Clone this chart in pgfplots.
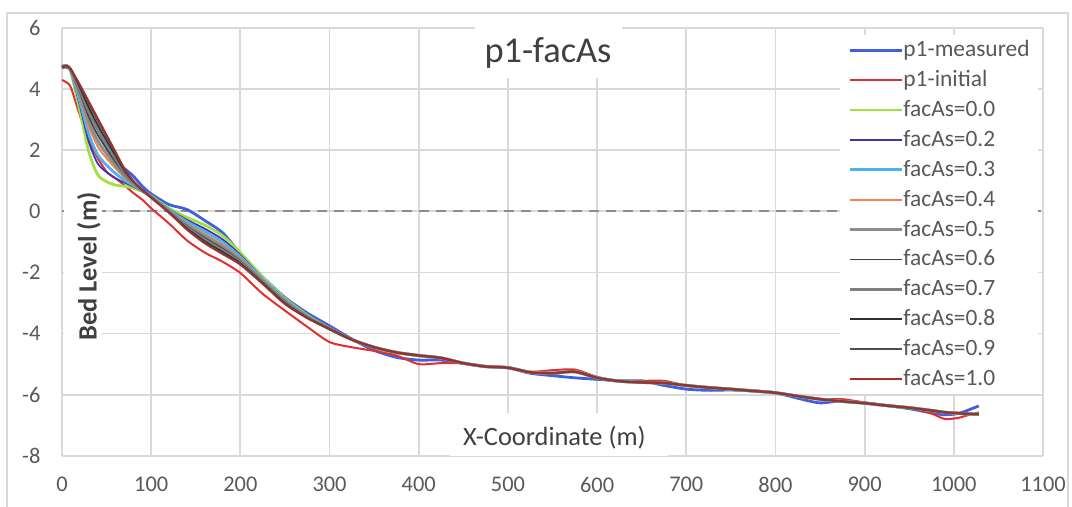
\documentclass[border=0pt]{standalone}
\usepackage{fontspec}
\setmainfont{Carlito}
\usepackage{pgfplots}
\usepackage{pgfplotstable}
\pgfplotsset{compat=1.18}
\definecolor{gridc}{HTML}{D9D9D9}
\definecolor{txt}{HTML}{595959}
\definecolor{ttl}{HTML}{404040}
\definecolor{cmeas}{HTML}{4060E0}
\definecolor{cinit}{HTML}{E03030}
\definecolor{cf00}{HTML}{A0E040}
\definecolor{cf02}{HTML}{4A30B0}
\definecolor{cf03}{HTML}{4DB3F0}
\definecolor{cf04}{HTML}{F4824A}
\definecolor{cf05}{HTML}{8C8C8C}
\definecolor{cf06}{HTML}{404040}
\definecolor{cf07}{HTML}{7F7F7F}
\definecolor{cf08}{HTML}{303030}
\definecolor{cf09}{HTML}{505050}
\definecolor{cf10}{HTML}{A0302A}

\pgfplotstableread{
x    meas   init   f00    f02    f03    f04    f05    f06    f07    f08    f09    f10
0    4.70   4.30   4.75   4.74   4.74   4.74   4.73   4.73   4.73   4.72   4.72   4.72
5    4.72   4.22   4.78   4.77   4.77   4.77   4.76   4.76   4.76   4.75   4.75   4.75
10   4.60   4.05   4.55   4.57   4.59   4.60   4.61   4.62   4.63   4.64   4.65   4.65
20   4.00   3.15   3.30   3.47   3.60   3.73   3.81   3.90   3.98   4.05   4.11   4.15
30   3.35   2.35   1.95   2.28   2.53   2.78   2.94   3.10   3.27   3.40   3.52   3.60
40   2.70   1.75   1.20   1.57   1.85   2.13   2.31   2.50   2.68   2.83   2.96   3.05
50   2.10   1.30   0.97   1.28   1.51   1.74   1.89   2.04   2.19   2.32   2.43   2.50
60   1.65   1.08   0.86   1.08   1.24   1.41   1.51   1.62   1.73   1.82   1.90   1.95
70   1.40   0.85   0.82   0.94   1.02   1.11   1.17   1.23   1.28   1.33   1.37   1.40
80   1.15   0.60   0.76   0.81   0.85   0.88   0.90   0.93   0.95   0.97   0.99   1.00
90   0.82   0.38   0.65   0.66   0.67   0.68   0.68   0.69   0.69   0.70   0.70   0.70
100  0.57   0.10   0.50   0.49   0.48   0.48   0.47   0.47   0.46   0.46   0.45   0.45
120  0.22  -0.40   0.10   0.07   0.05   0.03   0.01  -0.01  -0.02  -0.03  -0.04  -0.05
140  0.06  -0.95  -0.20  -0.28  -0.34  -0.40  -0.44  -0.48  -0.52  -0.55  -0.58  -0.60
160 -0.30  -1.35  -0.45  -0.57  -0.66  -0.75  -0.81  -0.87  -0.93  -0.98  -1.02  -1.05
180 -0.70  -1.65  -0.80  -0.92  -1.01  -1.10  -1.16  -1.22  -1.28  -1.33  -1.38  -1.40
200 -1.38  -2.02  -1.35  -1.43  -1.49  -1.55  -1.59  -1.63  -1.67  -1.70  -1.73  -1.75
225 -2.15  -2.70  -2.15  -2.20  -2.22  -2.25  -2.28  -2.30  -2.32  -2.34  -2.36  -2.38
250 -2.82  -3.25  -2.85  -2.88  -2.90  -2.92  -2.94  -2.96  -2.98  -3.00  -3.02  -3.04
275 -3.33  -3.78  -3.40  -3.42  -3.43  -3.44  -3.45  -3.46  -3.47  -3.48  -3.49  -3.50
300 -3.75  -4.28  -3.83  -3.85  -3.85  -3.85  -3.85  -3.85  -3.85  -3.85  -3.85  -3.85
325 -4.18  -4.45  -4.20  -4.20  -4.20  -4.20  -4.20  -4.20  -4.20  -4.20  -4.20  -4.20
350 -4.55  -4.57  -4.45  -4.45  -4.45  -4.45  -4.45  -4.45  -4.45  -4.45  -4.45  -4.45
375 -4.78  -4.72  -4.62  -4.62  -4.62  -4.62  -4.62  -4.62  -4.62  -4.62  -4.62  -4.62
400 -4.87  -5.00  -4.72  -4.72  -4.72  -4.72  -4.72  -4.72  -4.72  -4.72  -4.72  -4.72
425 -4.87  -4.97  -4.80  -4.80  -4.80  -4.80  -4.80  -4.80  -4.80  -4.80  -4.80  -4.80
450 -4.98  -4.98  -4.97  -4.97  -4.97  -4.97  -4.97  -4.97  -4.97  -4.97  -4.97  -4.97
475 -5.08  -5.08  -5.08  -5.08  -5.08  -5.08  -5.08  -5.08  -5.08  -5.08  -5.08  -5.08
500 -5.12  -5.10  -5.12  -5.12  -5.12  -5.12  -5.12  -5.12  -5.12  -5.12  -5.12  -5.12
525 -5.30  -5.25  -5.27  -5.27  -5.27  -5.27  -5.27  -5.27  -5.27  -5.27  -5.27  -5.27
550 -5.38  -5.20  -5.30  -5.30  -5.30  -5.30  -5.30  -5.30  -5.30  -5.30  -5.30  -5.30
575 -5.45  -5.18  -5.25  -5.25  -5.25  -5.25  -5.25  -5.25  -5.25  -5.25  -5.25  -5.25
600 -5.50  -5.42  -5.45  -5.45  -5.45  -5.45  -5.45  -5.45  -5.45  -5.45  -5.45  -5.45
625 -5.55  -5.55  -5.56  -5.56  -5.56  -5.56  -5.56  -5.56  -5.56  -5.56  -5.56  -5.56
650 -5.55  -5.55  -5.60  -5.60  -5.60  -5.60  -5.60  -5.60  -5.60  -5.60  -5.60  -5.60
675 -5.70  -5.55  -5.62  -5.62  -5.62  -5.62  -5.62  -5.62  -5.62  -5.62  -5.62  -5.62
700 -5.82  -5.70  -5.70  -5.70  -5.70  -5.70  -5.70  -5.70  -5.70  -5.70  -5.70  -5.70
725 -5.86  -5.75  -5.77  -5.77  -5.77  -5.77  -5.77  -5.77  -5.77  -5.77  -5.77  -5.77
750 -5.85  -5.82  -5.82  -5.82  -5.82  -5.82  -5.82  -5.82  -5.82  -5.82  -5.82  -5.82
775 -5.88  -5.86  -5.88  -5.88  -5.88  -5.88  -5.88  -5.88  -5.88  -5.88  -5.88  -5.88
800 -5.94  -5.93  -5.94  -5.94  -5.94  -5.94  -5.94  -5.94  -5.94  -5.94  -5.94  -5.94
825 -6.12  -6.05  -6.05  -6.05  -6.05  -6.05  -6.05  -6.05  -6.05  -6.05  -6.05  -6.05
850 -6.27  -6.15  -6.15  -6.15  -6.15  -6.15  -6.15  -6.15  -6.15  -6.15  -6.15  -6.15
875 -6.20  -6.15  -6.22  -6.22  -6.22  -6.22  -6.22  -6.22  -6.22  -6.22  -6.22  -6.22
900 -6.27  -6.26  -6.28  -6.28  -6.28  -6.28  -6.28  -6.28  -6.28  -6.28  -6.28  -6.28
925 -6.36  -6.35  -6.36  -6.36  -6.36  -6.36  -6.36  -6.36  -6.36  -6.36  -6.36  -6.36
950 -6.46  -6.42  -6.43  -6.43  -6.43  -6.43  -6.43  -6.43  -6.43  -6.43  -6.43  -6.43
975 -6.60  -6.62  -6.52  -6.52  -6.52  -6.52  -6.52  -6.52  -6.52  -6.52  -6.52  -6.52
990 -6.66  -6.80  -6.58  -6.58  -6.58  -6.58  -6.58  -6.58  -6.58  -6.58  -6.58  -6.58
1005 -6.62 -6.76  -6.61  -6.61  -6.61  -6.61  -6.61  -6.61  -6.61  -6.61  -6.61  -6.61
1015 -6.52 -6.68  -6.63  -6.63  -6.63  -6.63  -6.63  -6.63  -6.63  -6.63  -6.63  -6.63
1028 -6.37 -6.58  -6.64  -6.64  -6.64  -6.64  -6.64  -6.64  -6.64  -6.64  -6.64  -6.64
}\profiles

\begin{document}
\begin{tikzpicture}[x=1bp,y=1bp]
\useasboundingbox (0,0) rectangle (536,-253);
\draw[gridc, line width=1bp] (3.5,-6.5) rectangle (534,-258);
\begin{axis}[
  at={(31bp,-14bp)}, anchor=north west,
  scale only axis, width=490.5bp, height=213.85bp,
  xmin=0, xmax=1100, ymin=-8, ymax=6,
  xtick distance=100, ytick distance=2,
  grid=major, major grid style={gridc, line width=0.9bp},
  axis line style={draw=none},
  major tick length=0pt,
  clip=false,
  tick label style={font=\fontsize{11.2bp}{13bp}\selectfont, text=txt},
  /pgf/number format/assume math mode=true,
  /pgf/number format/set thousands separator={},
  xticklabel style={yshift=-7.3bp},
  yticklabel style={xshift=-7.3bp},
  every axis plot/.append style={smooth, tension=0.45},
  legend image code/.code={\draw[#1] (0bp,0bp) -- (26bp,0bp);},
  legend style={at={(0.7931,0.984)}, anchor=north west, draw=none, fill=white,
    font=\fontsize{11.7bp}{14bp}\selectfont, text=txt,
    inner xsep=4bp, inner ysep=2.2bp, row sep=4.45bp,
    nodes={inner sep=0pt, text height=8.5bp, text depth=2bp},
    cells={anchor=west},
    /tikz/every even column/.append style={column sep=3.5bp}},
]
\addplot[forget plot, sharp plot, color=black!45, line width=1bp, dash pattern=on 5bp off 3.5bp] coordinates {(0,0) (1100,0)};
\addplot[cmeas, line width=1.4bp] table[x=x, y=meas] {\profiles};
\addlegendentry{p1-measured}
\addplot[cinit, line width=1bp] table[x=x, y=init] {\profiles};
\addlegendentry{p1-initial}
\addplot[cf00, line width=1.4bp] table[x=x, y=f00] {\profiles};
\addlegendentry{facAs=0.0}
\addplot[cf02, line width=0.9bp] table[x=x, y=f02] {\profiles};
\addlegendentry{facAs=0.2}
\addplot[cf03, line width=1.4bp] table[x=x, y=f03] {\profiles};
\addlegendentry{facAs=0.3}
\addplot[cf04, line width=1bp] table[x=x, y=f04] {\profiles};
\addlegendentry{facAs=0.4}
\addplot[cf05, line width=1.5bp] table[x=x, y=f05] {\profiles};
\addlegendentry{facAs=0.5}
\addplot[cf06, line width=0.8bp] table[x=x, y=f06] {\profiles};
\addlegendentry{facAs=0.6}
\addplot[cf07, line width=1.5bp] table[x=x, y=f07] {\profiles};
\addlegendentry{facAs=0.7}
\addplot[cf08, line width=0.8bp] table[x=x, y=f08] {\profiles};
\addlegendentry{facAs=0.8}
\addplot[cf09, line width=0.8bp] table[x=x, y=f09] {\profiles};
\addlegendentry{facAs=0.9}
\addplot[cf10, line width=0.9bp] table[x=x, y=f10] {\profiles};
\addlegendentry{facAs=1.0}
% title
\node[fill=white, minimum width=73.5bp, minimum height=26.5bp, inner sep=0pt] at (rel axis cs:0.4959,0.9451) {};
\node[anchor=base, text=ttl, font=\fontsize{18.2bp}{22bp}\selectfont, inner sep=0pt] at (rel axis cs:0.4954,0.9205) {p1-facAs};
% x label
\node[fill=white, minimum width=109bp, minimum height=21.4bp, inner sep=0pt] at (rel axis cs:0.5066,0.0498) {};
\node[anchor=base, text=ttl, font=\fontsize{13.2bp}{16bp}\selectfont, inner sep=0pt] at (rel axis cs:0.502,0.025) {X-Coordinate (m)};
% y label
\node[fill=white, minimum width=19bp, minimum height=80bp, inner sep=0pt] at (rel axis cs:0.0214,0.4342) {};
\node[anchor=base, rotate=90, text=ttl, font=\bfseries\fontsize{13.2bp}{16bp}\selectfont, inner sep=0pt] at (rel axis cs:0.0352,0.4424) {Bed Level (m)};
\end{axis}
\end{tikzpicture}
\end{document}
